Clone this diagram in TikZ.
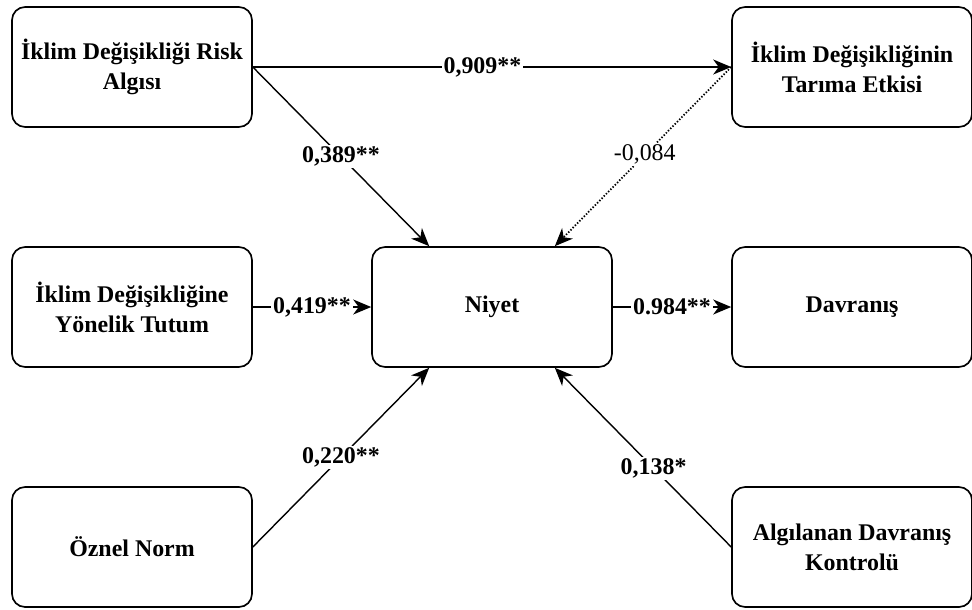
\documentclass[tikz,border=0pt]{standalone}
\usepackage{fontspec}
\setmainfont{Liberation Serif}
\usetikzlibrary{arrows.meta}
\usetikzlibrary{positioning}
\usetikzlibrary{calc}
\tikzset{basic box/.style={draw,rounded corners=0.26cm,line width=0.95pt}}
\tikzset{construct/.style={basic box,
                           minimum width=4.8cm,
                           minimum height=2.4cm,
                           align=center,
                           font=\bfseries\fontsize{13.6}{17}\selectfont}}
\tikzset{link/.style={draw,
                      line width=0.8pt,
                      -{Stealth[length=0.36cm,width=0.3cm,inset=0.11cm]}}}
\tikzset{coef/.style={fill=white,inner sep=1pt,
                      font=\bfseries\fontsize{13.6}{17}\selectfont}}

\begin{document}
\begin{tikzpicture}[x=0.02cm,y=-0.02cm]
      \useasboundingbox (0,0) rectangle (972,609);

      % constructs
      \node [construct] (risk) at (132,67) {İklim Değişikliği Risk\\Algısı};
      \node [construct] (etki) at (852,67) {İklim Değişikliğinin\\Tarıma Etkisi};
      \node [construct] (tutum) at (132,307) {İklim Değişikliğine\\Yönelik Tutum};
      \node [construct] (niyet) at (492,307) {Niyet};
      \node [construct] (davranis) at (852,307) {Davranış};
      \node [construct] (norm) at (132,547) {Öznel Norm};
      \node [construct] (kontrol) at (852,547) {Algılanan Davranış\\Kontrolü};

      % top paths
      \draw [link] (risk.east) -- node [coef,pos=0.48] {0,909**} (etki.west);

      \draw [link] (risk.east) -- node [coef] {0,389**}
      ($(niyet.north west)!0.24!(niyet.north east)$);

      \draw [link,densely dotted,line width=1pt] (etki.west) -- node [coef,pos=0.49,
      font=\fontsize{13.6}{17}\selectfont] {-0,084}
      ($(niyet.north west)!0.76!(niyet.north east)$);

      % middle paths
      \draw [link] (tutum.east) -- node [coef] {0,419**} (niyet.west);

      \draw [link] (niyet.east) -- node [coef] {0.984**} (davranis.west);

      % bottom paths
      \draw [link] (norm.east) -- node [coef] {0,220**}
      ($(niyet.south west)!0.24!(niyet.south east)$);

      \draw [link] (kontrol.west) -- node [coef,pos=0.44] {0,138*}
      ($(niyet.south west)!0.76!(niyet.south east)$);

\end{tikzpicture}
\end{document}
